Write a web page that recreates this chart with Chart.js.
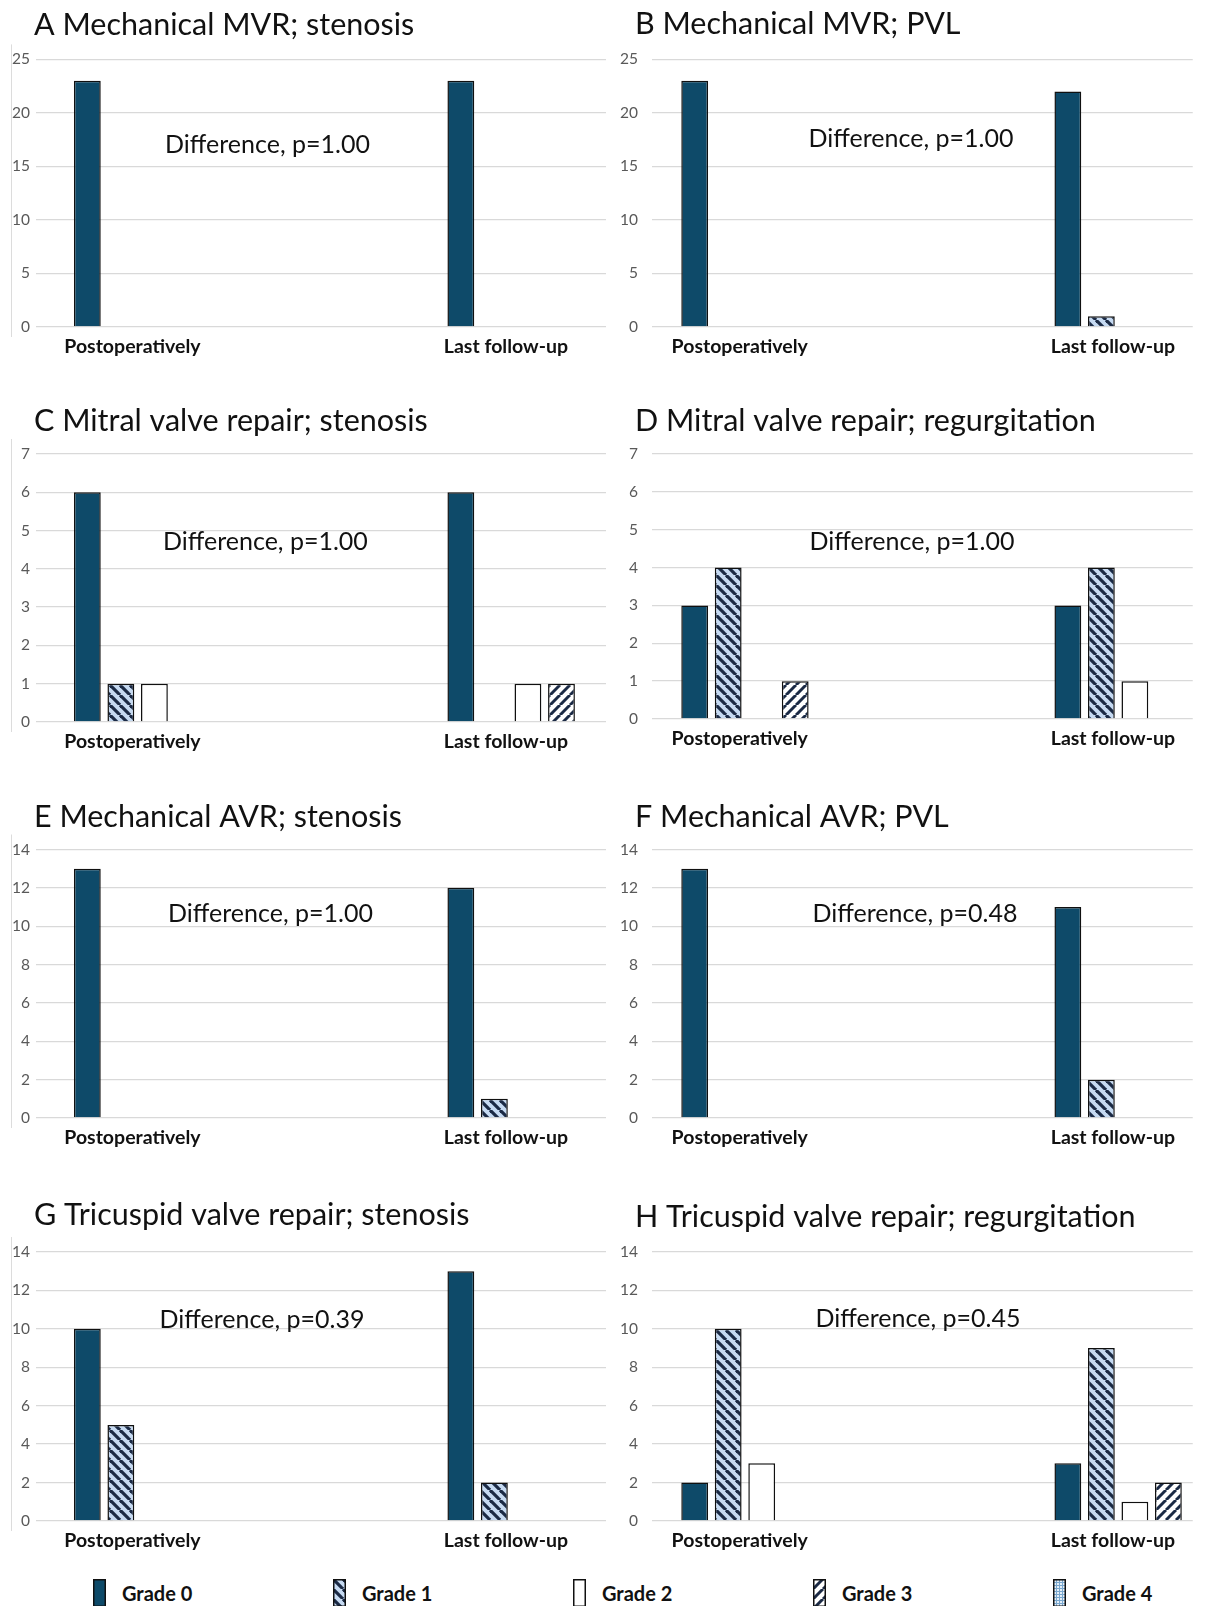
<!DOCTYPE html>
<html>
<head>
<meta charset="utf-8">
<title>Valve grades, postoperatively vs last follow-up</title>
<script src="https://cdn.jsdelivr.net/npm/chart.js@4.4.1/dist/chart.umd.min.js"></script>
<style>
  html, body { margin: 0; padding: 0; background: #fff; }
  body { position: relative; width: 1205px; height: 1606px; overflow: hidden; font-family: Lato, "Open Sans", sans-serif; }
  .panel { position: absolute; }
  .legend-item { position: absolute; top: 1579px; height: 28px; display: flex; align-items: center; }
  .legend-item canvas { display: block; }
  .legend-item span { margin-left: 16px; font: bold 20px Lato, sans-serif; color: #111; }
</style>
</head>
<body>
<div id="panels"></div>
<div id="legend"></div>

<script>
// ---- data -------------------------------------------------------------
const categories = ['Postoperatively', 'Last follow-up'];
const grades = ['Grade 0', 'Grade 1', 'Grade 2', 'Grade 3', 'Grade 4'];

const panelTitles = [
  'A Mechanical MVR; stenosis',
  'B Mechanical MVR; PVL',
  'C Mitral valve repair; stenosis',
  'D Mitral valve repair; regurgitation',
  'E Mechanical AVR; stenosis',
  'F Mechanical AVR; PVL',
  'G Tricuspid valve repair; stenosis',
  'H Tricuspid valve repair; regurgitation'
];
const pValueLabels = [
  'Difference, p=1.00', 'Difference, p=1.00',
  'Difference, p=1.00', 'Difference, p=1.00',
  'Difference, p=1.00', 'Difference, p=0.48',
  'Difference, p=0.39', 'Difference, p=0.45'
];
const yAxisMax = [25, 25, 7, 7, 14, 14, 14, 14];
const yAxisStep = [5, 5, 1, 1, 2, 2, 2, 2];

// patient counts per grade (rows: Grade 0..4), columns: [postoperatively, last follow-up]
const mvrMechStenosis  = [[23, 23], [0, 0], [0, 0], [0, 0], [0, 0]];
const mvrMechPvl       = [[23, 22], [0, 1], [0, 0], [0, 0], [0, 0]];
const mvRepairStenosis = [[6, 6],   [1, 0], [1, 1], [0, 1], [0, 0]];
const mvRepairRegurg   = [[3, 3],   [4, 4], [0, 1], [1, 0], [0, 0]];
const avrMechStenosis  = [[13, 12], [0, 1], [0, 0], [0, 0], [0, 0]];
const avrMechPvl       = [[13, 11], [0, 2], [0, 0], [0, 0], [0, 0]];
const tvRepairStenosis = [[10, 13], [5, 2], [0, 0], [0, 0], [0, 0]];
const tvRepairRegurg   = [[2, 3],   [10, 9], [3, 1], [0, 2], [0, 0]];

const panelCounts = [
  mvrMechStenosis, mvrMechPvl,
  mvRepairStenosis, mvRepairRegurg,
  avrMechStenosis, avrMechPvl,
  tvRepairStenosis, tvRepairRegurg
];

// ---- page layout (pixels) ---------------------------------------------
const columns = [
  { left: 0,   width: 606, axisWidth: 36, tickPad: 6,  titleX: 34, xMin: -0.317, xMax: 1.209, edgeLine: true },
  { left: 606, width: 599, axisWidth: 46, tickPad: 14, titleX: 29, xMin: -0.294, xMax: 1.155, edgeLine: false }
];
const rows = [
  { top: 0,    plotTop: [59.4, 59.4], plotBottom: [327, 327],     titleY: [25, 24.6], noteY: [144.5, 139.4] },
  { top: 395,  plotTop: [59, 59],     plotBottom: [327.4, 324.3], titleY: [26, 26],   noteY: [147, 147] },
  { top: 790,  plotTop: [59.5, 59.5], plotBottom: [328, 328],     titleY: [26.7, 26.7], noteY: [124, 124] },
  { top: 1190, plotTop: [62, 62],     plotBottom: [330.6, 330.6], titleY: [25, 27],   noteY: [130, 129] }
];
const noteX = [[267.5, 305], [265.4, 306], [270.5, 309], [262, 312]];
const xAxisHeight = 34;

// ---- fills ------------------------------------------------------------
const NAVY = '#1b2a45';
function stripeTile(bg, fg, backslash, period, lw) {
  const c = document.createElement('canvas');
  c.width = c.height = period;
  const g = c.getContext('2d');
  g.fillStyle = bg;
  g.fillRect(0, 0, period, period);
  g.strokeStyle = fg;
  g.lineWidth = lw;
  for (const o of [-period, 0, period]) {
    g.beginPath();
    if (backslash) { g.moveTo(o, 0); g.lineTo(o + period, period); }
    else { g.moveTo(o + period, 0); g.lineTo(o, period); }
    g.stroke();
  }
  return c;
}
function gridTile() {
  const c = document.createElement('canvas');
  c.width = c.height = 3;
  const g = c.getContext('2d');
  g.fillStyle = '#e3eef8';
  g.fillRect(0, 0, 3, 3);
  g.fillStyle = '#7aa8cf';
  g.fillRect(0, 0, 3, 1);
  g.fillRect(0, 0, 1, 3);
  return c;
}
const tmp = document.createElement('canvas').getContext('2d');
const gradeFills = [
  '#0e4a69',
  tmp.createPattern(stripeTile('#c6daf2', NAVY, true, 10, 3.2), 'repeat'),
  '#ffffff',
  tmp.createPattern(stripeTile('#ffffff', NAVY, false, 10, 3.0), 'repeat'),
  tmp.createPattern(gridTile(), 'repeat')
];

// ---- per-panel decorations: title, p-value note, left frame line -------
const panelDecor = {
  id: 'panelDecor',
  afterDraw(chart, args, opts) {
    const ctx = chart.ctx;
    ctx.save();
    ctx.fillStyle = '#111';
    ctx.textBaseline = 'middle';
    ctx.textAlign = 'left';
    ctx.font = '30.5px Lato, sans-serif';
    ctx.fillText(opts.title, opts.titleX, opts.titleY);
    ctx.textAlign = 'center';
    ctx.font = '25px Lato, sans-serif';
    ctx.fillText(opts.note, opts.noteX, opts.noteY);
    if (opts.edgeLine) {
      const a = chart.chartArea;
      ctx.strokeStyle = '#dcdcdc';
      ctx.lineWidth = 1;
      ctx.beginPath();
      ctx.moveTo(11.5, a.top - 15);
      ctx.lineTo(11.5, a.bottom + 10);
      ctx.stroke();
    }
    ctx.restore();
  }
};

// ---- build charts -----------------------------------------------------
const host = document.getElementById('panels');
panelCounts.forEach((counts, p) => {
  const ci = p % 2, ri = Math.floor(p / 2);
  const col = columns[ci], row = rows[ri];
  const plotTop = row.plotTop[ci], plotBottom = row.plotBottom[ci];
  const height = Math.round(plotBottom + xAxisHeight);

  const wrap = document.createElement('div');
  wrap.className = 'panel';
  wrap.style.left = col.left + 'px';
  wrap.style.top = row.top + 'px';
  const canvas = document.createElement('canvas');
  canvas.width = col.width;
  canvas.height = height;
  canvas.style.width = col.width + 'px';
  canvas.style.height = height + 'px';
  wrap.appendChild(canvas);
  host.appendChild(wrap);

  new Chart(canvas, {
    type: 'bar',
    data: {
      datasets: grades.map((g, k) => ({
        label: g,
        data: categories.map((c, i) => ({ x: i, y: counts[k][i] })),
        backgroundColor: gradeFills[k],
        borderColor: '#101010',
        borderWidth: 1.5,
        barPercentage: 0.8,
        categoryPercentage: 0.449
      }))
    },
    options: {
      responsive: false,
      animation: false,
      events: [],
      layout: { padding: { top: plotTop, left: 0, right: 0, bottom: 0 } },
      plugins: {
        legend: { display: false },
        tooltip: { enabled: false },
        panelDecor: {
          title: panelTitles[p], titleX: col.titleX, titleY: row.titleY[ci],
          note: pValueLabels[p], noteX: noteX[ri][ci], noteY: row.noteY[ci],
          edgeLine: col.edgeLine
        }
      },
      scales: {
        x: {
          type: 'linear',
          offset: false,
          bounds: 'data',
          min: col.xMin,
          max: col.xMax,
          grid: { display: false, drawTicks: false, offset: false },
          border: { display: false },
          afterBuildTicks: s => { s.ticks = categories.map((c, i) => ({ value: i })); },
          afterFit: s => { s.height = xAxisHeight; },
          ticks: {
            callback: v => categories[v],
            labelOffset: -22,
            padding: 8,
            maxRotation: 0,
            autoSkip: false,
            color: '#111',
            font: { family: 'Lato', size: 19.5, weight: 'bold' }
          }
        },
        y: {
          min: 0,
          max: yAxisMax[p],
          grid: { color: '#d9d9d9', lineWidth: 1.3, drawTicks: false },
          border: { display: false },
          afterFit: s => { s.width = col.axisWidth; },
          ticks: {
            stepSize: yAxisStep[p],
            padding: col.tickPad,
            color: '#595959',
            font: { family: 'Lato', size: 15.5 }
          }
        }
      }
    },
    plugins: [panelDecor]
  });
});

// ---- shared legend ----------------------------------------------------
const legendHost = document.getElementById('legend');
grades.forEach((g, k) => {
  const item = document.createElement('div');
  item.className = 'legend-item';
  item.style.left = (93 + k * 240) + 'px';
  const sw = document.createElement('canvas');
  sw.width = 13; sw.height = 28;
  const sctx = sw.getContext('2d');
  sctx.fillStyle = gradeFills[k];
  sctx.fillRect(0, 0, 13, 28);
  sctx.strokeStyle = '#101010';
  sctx.lineWidth = 1.5;
  sctx.strokeRect(0.75, 0.75, 11.5, 26.5);
  const label = document.createElement('span');
  label.textContent = g;
  item.appendChild(sw);
  item.appendChild(label);
  legendHost.appendChild(item);
});
</script>
</body>
</html>
